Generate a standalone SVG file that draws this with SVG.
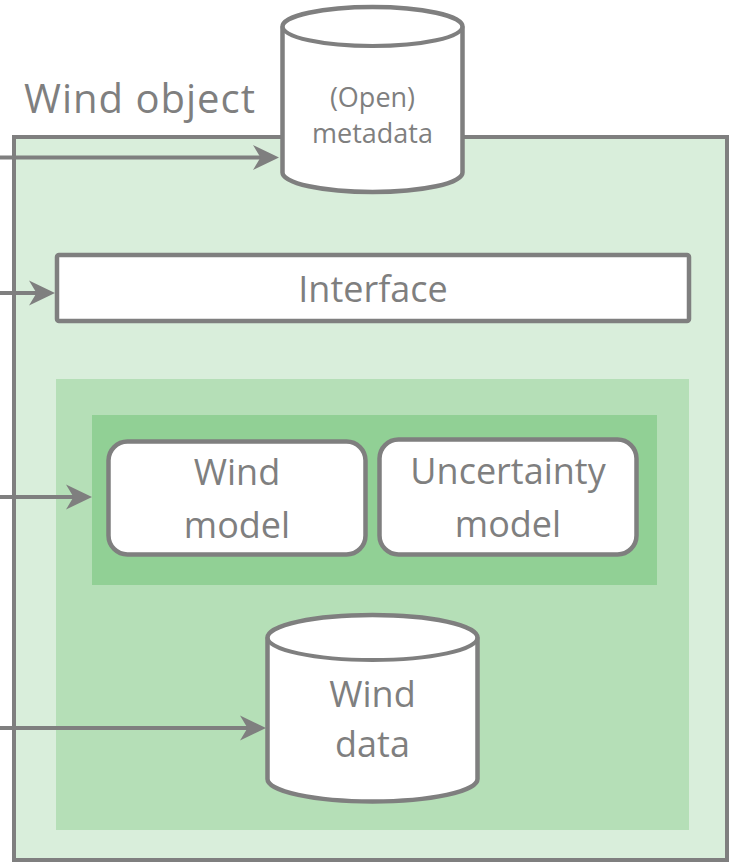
<svg xmlns="http://www.w3.org/2000/svg" width="731" height="865" viewBox="0 0 731 865">
  <style>
    .line { stroke: #7f7f7f; stroke-width: 4; fill: none; }
    .shape { stroke: #7f7f7f; stroke-width: 4.5; fill: #ffffff; }
    .label { font-family: "Open Sans", "Noto Sans", "Liberation Sans", sans-serif; fill: #7f7f7f; text-anchor: middle; }
  </style>
  <defs>
    <marker id="arrow" markerUnits="userSpaceOnUse" markerWidth="30" markerHeight="30" refX="16" refY="13" orient="auto">
      <path d="M0,0.5 L26,13 L0,25.5 L7.5,13 Z" fill="#7f7f7f"/>
    </marker>
  </defs>

  <rect width="731" height="865" fill="#ffffff"/>

  <!-- container for the whole object -->
  <g id="wind-object">
    <rect x="14" y="137" width="713" height="723" fill="#d9eedb" stroke="#7f7f7f" stroke-width="4"/>
    <text class="label" x="24" y="113" font-size="40" style="text-anchor:start" textLength="231">Wind object</text>
  </g>

  <!-- inner shaded panels -->
  <g id="core-panel">
    <rect x="56" y="379" width="633" height="451" fill="#b5dfb7"/>
  </g>
  <g id="model-panel">
    <rect x="92" y="415" width="565" height="170" fill="#91d095"/>
  </g>

  <g id="metadata">
    <path class="shape" d="M282.5,26.5 A90,19.5 0 0 1 462.5,26.5 L462.5,172.5 A90,19.5 0 0 1 282.5,172.5 Z"/>
    <path class="line" stroke-width="4.5" d="M282.5,26.5 A90,19.5 0 0 0 462.5,26.5"/>
    <text class="label" x="372.5" y="107" font-size="27">(Open)</text>
    <text class="label" x="372.5" y="143" font-size="27">metadata</text>
  </g>

  <g id="interface">
    <rect class="shape" x="57" y="255" width="632" height="66" rx="2"/>
    <text class="label" x="373" y="302" font-size="36">Interface</text>
  </g>

  <g id="wind-model">
    <rect class="shape" x="108.5" y="441.5" width="257" height="113" rx="19"/>
    <text class="label" x="237" y="485" font-size="36">Wind</text>
    <text class="label" x="237" y="538" font-size="36">model</text>
  </g>

  <g id="uncertainty-model">
    <rect class="shape" x="379.5" y="439.5" width="257" height="115" rx="19"/>
    <text class="label" x="508" y="484" font-size="36">Uncertainty</text>
    <text class="label" x="508" y="537" font-size="36">model</text>
  </g>

  <g id="wind-data">
    <path class="shape" d="M267.5,637.5 A105,22.5 0 0 1 477.5,637.5 L477.5,779 A105,22.5 0 0 1 267.5,779 Z"/>
    <path class="line" stroke-width="4.5" d="M267.5,637.5 A105,22.5 0 0 0 477.5,637.5"/>
    <text class="label" x="372.5" y="707" font-size="36">Wind</text>
    <text class="label" x="372.5" y="757" font-size="36">data</text>
  </g>

  <!-- incoming connectors -->
  <g id="connectors">
    <line class="line" x1="0" y1="157.5" x2="269" y2="157.5" marker-end="url(#arrow)"/>
    <line class="line" x1="0" y1="293" x2="45" y2="293" marker-end="url(#arrow)"/>
    <line class="line" x1="0" y1="497" x2="82" y2="497" marker-end="url(#arrow)"/>
    <line class="line" x1="0" y1="728" x2="256" y2="728" marker-end="url(#arrow)"/>
  </g>
</svg>
